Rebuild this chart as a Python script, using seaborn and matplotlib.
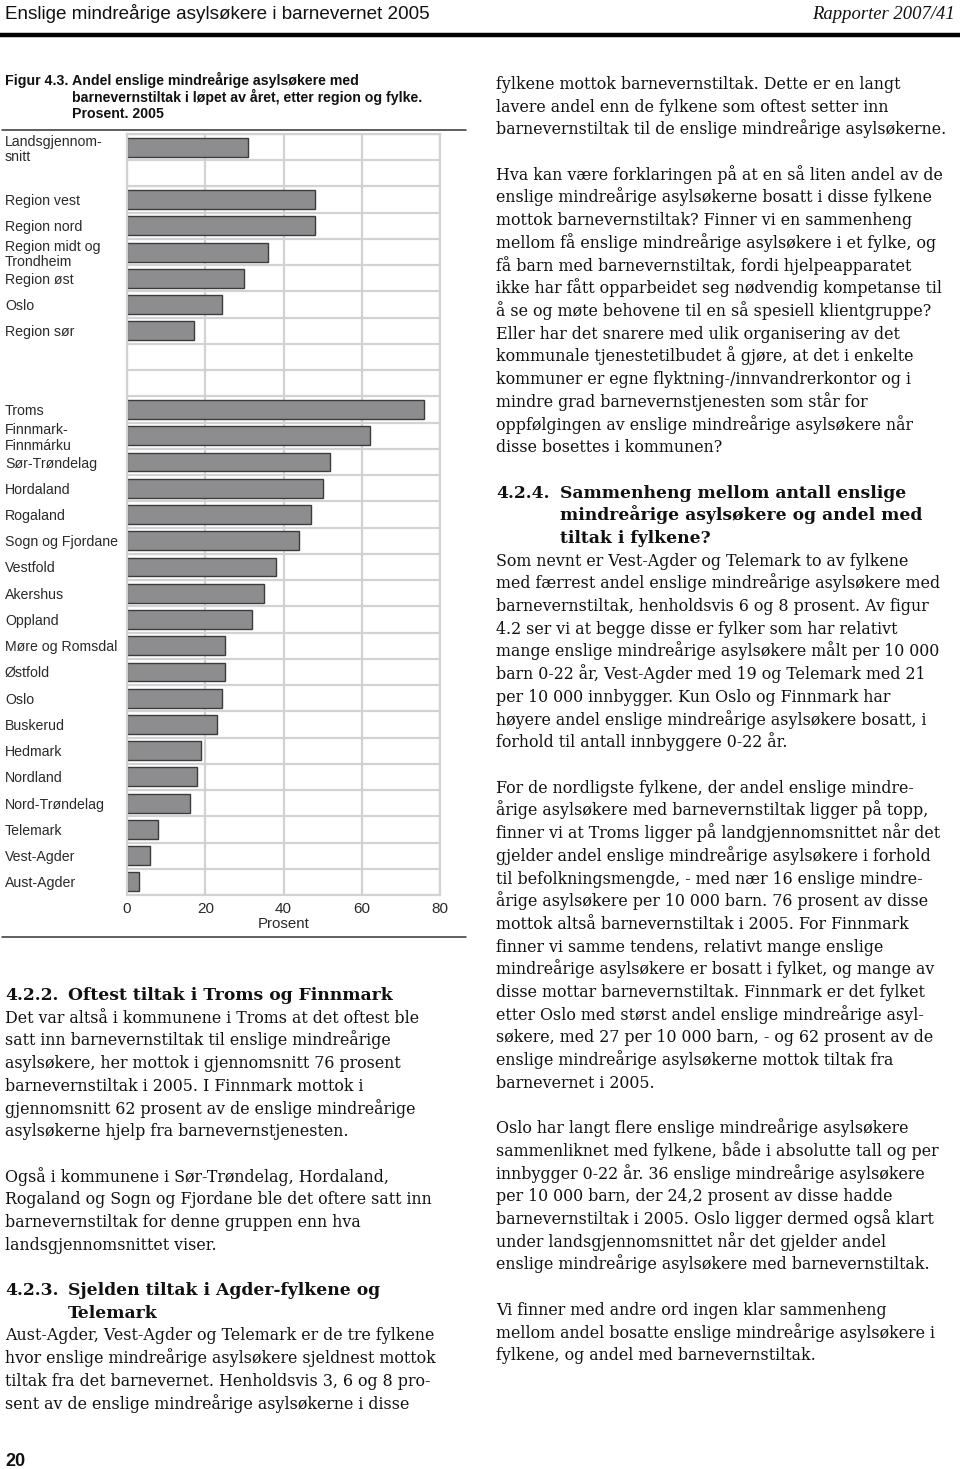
import numpy as np
import pandas as pd
import seaborn as sns
import matplotlib.pyplot as plt

# ---- chart data (Prosent, 2005) ----
region_labels = ["Landsgjennom-\nsnitt", "Region vest", "Region nord",
                 "Region midt og\nTrondheim", "Region øst", "Oslo", "Region sør"]
region_values = [31, 48, 48, 36, 30, 24.2, 17]

county_labels = ["Troms", "Finnmark-\nFinnmárku", "Sør-Trøndelag", "Hordaland",
                 "Rogaland", "Sogn og Fjordane", "Vestfold", "Akershus", "Oppland",
                 "Møre og Romsdal", "Østfold", "Oslo", "Buskerud", "Hedmark",
                 "Nordland", "Nord-Trøndelag", "Telemark", "Vest-Agder", "Aust-Agder"]
county_values = [76, 62, 52, 50, 47, 44, 38, 35, 32, 25, 25, 24.2, 23, 19,
                 18, 16, 8, 6, 3]

x_ticks = [0, 20, 40, 60, 80]

# ---- page text ----
header_left = "Enslige mindreårige asylsøkere i barnevernet 2005"
header_right = "Rapporter 2007/41"
caption_num = "Figur 4.3."
caption_lines = ["Andel enslige mindreårige asylsøkere med",
                 "barnevernstiltak i løpet av året, etter region og fylke.",
                 "Prosent. 2005"]

left_col = [
    ("h", "4.2.2.", "Oftest tiltak i Troms og Finnmark"),
    "Det var altså i kommunene i Troms at det oftest ble",
    "satt inn barnevernstiltak til enslige mindreårige",
    "asylsøkere, her mottok i gjennomsnitt 76 prosent",
    "barnevernstiltak i 2005. I Finnmark mottok i",
    "gjennomsnitt 62 prosent av de enslige mindreårige",
    "asylsøkerne hjelp fra barnevernstjenesten.",
    "",
    "Også i kommunene i Sør-Trøndelag, Hordaland,",
    "Rogaland og Sogn og Fjordane ble det oftere satt inn",
    "barnevernstiltak for denne gruppen enn hva",
    "landsgjennomsnittet viser.",
    "",
    ("h", "4.2.3.", "Sjelden tiltak i Agder-fylkene og"),
    ("h", "", "Telemark"),
    "Aust-Agder, Vest-Agder og Telemark er de tre fylkene",
    "hvor enslige mindreårige asylsøkere sjeldnest mottok",
    "tiltak fra det barnevernet. Henholdsvis 3, 6 og 8 pro-",
    "sent av de enslige mindreårige asylsøkerne i disse",
]

right_col = [
    "fylkene mottok barnevernstiltak. Dette er en langt",
    "lavere andel enn de fylkene som oftest setter inn",
    "barnevernstiltak til de enslige mindreårige asylsøkerne.",
    "",
    "Hva kan være forklaringen på at en så liten andel av de",
    "enslige mindreårige asylsøkerne bosatt i disse fylkene",
    "mottok barnevernstiltak? Finner vi en sammenheng",
    "mellom få enslige mindreårige asylsøkere i et fylke, og",
    "få barn med barnevernstiltak, fordi hjelpeapparatet",
    "ikke har fått opparbeidet seg nødvendig kompetanse til",
    "å se og møte behovene til en så spesiell klientgruppe?",
    "Eller har det snarere med ulik organisering av det",
    "kommunale tjenestetilbudet å gjøre, at det i enkelte",
    "kommuner er egne flyktning-/innvandrerkontor og i",
    "mindre grad barnevernstjenesten som står for",
    "oppfølgingen av enslige mindreårige asylsøkere når",
    "disse bosettes i kommunen?",
    "",
    ("h", "4.2.4.", "Sammenheng mellom antall enslige"),
    ("h", "", "mindreårige asylsøkere og andel med"),
    ("h", "", "tiltak i fylkene?"),
    "Som nevnt er Vest-Agder og Telemark to av fylkene",
    "med færrest andel enslige mindreårige asylsøkere med",
    "barnevernstiltak, henholdsvis 6 og 8 prosent. Av figur",
    "4.2 ser vi at begge disse er fylker som har relativt",
    "mange enslige mindreårige asylsøkere målt per 10 000",
    "barn 0-22 år, Vest-Agder med 19 og Telemark med 21",
    "per 10 000 innbygger. Kun Oslo og Finnmark har",
    "høyere andel enslige mindreårige asylsøkere bosatt, i",
    "forhold til antall innbyggere 0-22 år.",
    "",
    "For de nordligste fylkene, der andel enslige mindre-",
    "årige asylsøkere med barnevernstiltak ligger på topp,",
    "finner vi at Troms ligger på landgjennomsnittet når det",
    "gjelder andel enslige mindreårige asylsøkere i forhold",
    "til befolkningsmengde, - med nær 16 enslige mindre-",
    "årige asylsøkere per 10 000 barn. 76 prosent av disse",
    "mottok altså barnevernstiltak i 2005. For Finnmark",
    "finner vi samme tendens, relativt mange enslige",
    "mindreårige asylsøkere er bosatt i fylket, og mange av",
    "disse mottar barnevernstiltak. Finnmark er det fylket",
    "etter Oslo med størst andel enslige mindreårige asyl-",
    "søkere, med 27 per 10 000 barn, - og 62 prosent av de",
    "enslige mindreårige asylsøkerne mottok tiltak fra",
    "barnevernet i 2005.",
    "",
    "Oslo har langt flere enslige mindreårige asylsøkere",
    "sammenliknet med fylkene, både i absolutte tall og per",
    "innbygger 0-22 år. 36 enslige mindreårige asylsøkere",
    "per 10 000 barn, der 24,2 prosent av disse hadde",
    "barnevernstiltak i 2005. Oslo ligger dermed også klart",
    "under landsgjennomsnittet når det gjelder andel",
    "enslige mindreårige asylsøkere med barnevernstiltak.",
    "",
    "Vi finner med andre ord ingen klar sammenheng",
    "mellom andel bosatte enslige mindreårige asylsøkere i",
    "fylkene, og andel med barnevernstiltak.",
]

# ---- build table: regions, 1 gap row, regions, 2 gap rows, counties ----
labels = [region_labels[0], ""] + region_labels[1:] + ["", ""] + county_labels
values = [region_values[0], np.nan] + region_values[1:] + [np.nan, np.nan] + county_values
df = pd.DataFrame({"row": [f"r{i}" for i in range(len(labels))],
                   "label": labels, "value": values})

sns.set_style("white")
plt.rcParams["font.family"] = ["Liberation Sans", "DejaVu Sans"]

W, H = 960, 1469
fig = plt.figure(figsize=(W / 100, H / 100), dpi=100)


def fx(px):
    return px / W


def fy(py):
    return 1 - py / H


grid_c = "#d2d2d2"
text_c = "#2a2a2a"

ax = fig.add_axes([fx(127), fy(895), fx(440) - fx(127), (895 - 134) / H])
sns.barplot(data=df.dropna(), x="value", y="row", order=list(df["row"]),
            orient="h", color="#8d8d8f", edgecolor="#3c3c3c", linewidth=1.0,
            width=0.72, saturation=1, ax=ax)

ax.set_xlim(0, 80)
ax.set_ylim(len(labels) - 0.5, -0.5)
ax.set_xticks(x_ticks)
ax.set_xticklabels([str(t) for t in x_ticks])
ax.set_yticks(range(len(labels)))
ax.set_yticklabels(df["label"])
ax.set_yticks(np.arange(-0.5, len(labels), 1), minor=True)
ax.set_axisbelow(True)
ax.xaxis.grid(True, color=grid_c, lw=1.6)
ax.yaxis.grid(True, which="minor", color=grid_c, lw=1.6)
ax.yaxis.grid(False, which="major")
for s in ax.spines.values():
    s.set_color(grid_c)
    s.set_linewidth(1.6)

ax.tick_params(axis="y", which="both", length=0, pad=122 * 0.72, labelsize=10.2,
               labelcolor=text_c)
ax.tick_params(axis="x", length=0, pad=5, labelsize=11, labelcolor=text_c)
for lab in ax.get_yticklabels():
    lab.set_ha("left")
    lab.set_linespacing(1.15)
ax.set_xlabel("Prosent", fontsize=10.8, color=text_c, labelpad=1)
ax.set_ylabel("")

# ---- header ----
fig.text(fx(5), fy(19), header_left, fontsize=13.6, color="#111111", va="baseline")
fig.text(fx(955), fy(19), header_right, fontsize=13.4, family="Liberation Serif",
         style="italic", color="#111111", ha="right", va="baseline")
fig.add_artist(plt.Line2D([fx(0), fx(960)], [fy(35), fy(35)], color="black", lw=3.2))

# ---- figure caption and rules ----
cap_y = [85, 102, 118]
fig.text(fx(5), fy(cap_y[0]), caption_num, fontsize=10.2, weight="bold",
         color="#111111", va="baseline")
for yy, line in zip(cap_y, caption_lines):
    fig.text(fx(72), fy(yy), line, fontsize=10.2, weight="bold", color="#111111",
             va="baseline")
for yy in (130, 937):
    fig.add_artist(plt.Line2D([fx(2), fx(466)], [fy(yy), fy(yy)],
                              color="#333333", lw=1.1))


# ---- body text columns ----
def draw_column(lines, x0, x_indent, y0, step=22.7):
    for i, item in enumerate(lines):
        yb = y0 + i * step + 5
        if isinstance(item, tuple):
            _, num, title = item
            if num:
                fig.text(fx(x0), fy(yb), num, family="DejaVu Serif", weight="bold",
                         fontsize=12.3, color="#111111", va="baseline")
            fig.text(fx(x_indent), fy(yb), title, family="DejaVu Serif",
                     weight="bold", fontsize=12.3, color="#111111", va="baseline")
        elif item:
            fig.text(fx(x0), fy(yb), item, family="DejaVu Serif", fontsize=11.4,
                     color="#111111", va="baseline")


draw_column(left_col, 5, 68, 995)
draw_column(right_col, 496, 560, 84)

fig.text(fx(5), fy(1466), "20", fontsize=13, weight="bold", color="#111111",
         va="baseline")

fig.savefig("out.png", dpi=100)
